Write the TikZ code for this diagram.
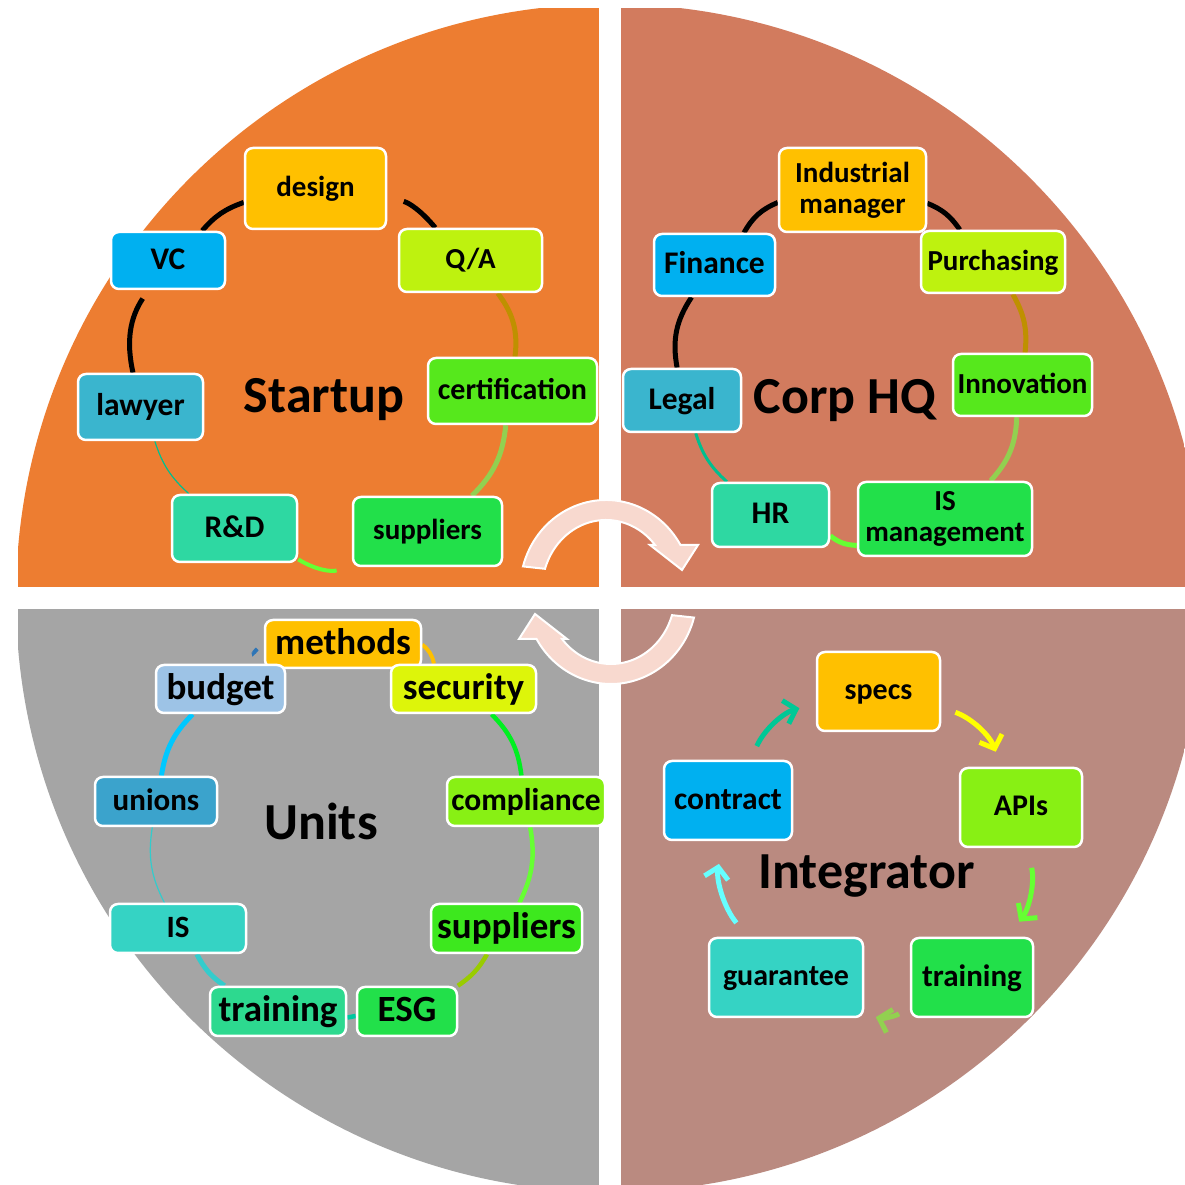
\documentclass[tikz,border=0pt]{standalone}
\usepackage{fontspec}
\setmainfont{Carlito}
\usetikzlibrary{arrows.meta}
\pgfdeclarelayer{back}
\pgfdeclarelayer{links}
\pgfsetlayers{back,links,main}
\tikzstyle{cell} = [rectangle, rounded corners=8pt, draw=white, line width=2.5pt, inner sep=0pt, text=black, align=center]
\tikzstyle{cellA} = [cell, font=\fontsize{29}{31}\selectfont\bfseries, text height=22.6pt, text depth=6.4pt]
\tikzstyle{cellI} = [cell, font=\fontsize{30}{32}\selectfont\bfseries, text height=23.4pt, text depth=6.6pt]
\tikzstyle{cellB} = [cell, font=\fontsize{31}{33}\selectfont\bfseries, text height=24.2pt, text depth=6.8pt]
\tikzstyle{cellL} = [cell, font=\fontsize{31.5}{33}\selectfont\bfseries, text height=24.6pt, text depth=6.9pt]
\tikzstyle{cellC} = [cell, font=\fontsize{37}{40}\selectfont\bfseries, text height=28.9pt, text depth=8.1pt]
\tikzstyle{cellD} = [cell, font=\fontsize{29}{31}\selectfont\bfseries]
\tikzstyle{title} = [font=\fontsize{52}{56}\selectfont\bfseries, anchor=base, inner sep=0pt]
\tikzstyle{link} = [line width=5pt]
\tikzstyle{hair} = [line width=1.2pt]
\tikzstyle{arrow} = [line width=5pt, -{Straight Barb[length=11pt, width=24pt]}]
\tikzstyle{swirlfill} = [fill=swirl, draw=white, line width=2pt]
\definecolor{qorange}{HTML}{ED7D31}
\definecolor{qcoral}{HTML}{D27B5E}
\definecolor{qgrey}{HTML}{A5A5A5}
\definecolor{qrose}{HTML}{BA8A80}
\definecolor{swirl}{HTML}{F8D9CF}
\definecolor{gold}{HTML}{FFC000}
\definecolor{sky}{HTML}{00B0F0}
\definecolor{lime}{HTML}{BEF20F}
\definecolor{leaf}{HTML}{56E81C}
\definecolor{grass}{HTML}{22E04A}
\definecolor{mint}{HTML}{2ED8A2}
\definecolor{lagoon}{HTML}{3AB5CE}
\definecolor{pale}{HTML}{9DC3E6}
\definecolor{steel}{HTML}{3BA3CC}
\definecolor{citron}{HTML}{DDF50A}
\definecolor{chart}{HTML}{88F014}
\definecolor{fern}{HTML}{3DE81E}
\definecolor{aqua}{HTML}{35D3C4}
\definecolor{jade}{HTML}{2DD98F}
\definecolor{ochre}{HTML}{BF9000}
\definecolor{moss}{HTML}{92D050}
\definecolor{neon}{HTML}{66FF33}
\definecolor{sea}{HTML}{00BF8F}
\definecolor{vivid}{HTML}{00F020}
\definecolor{olive}{HTML}{99CC00}
\definecolor{teal}{HTML}{00C8A0}
\definecolor{turq}{HTML}{33CCCC}
\definecolor{cyanb}{HTML}{00C8FF}
\definecolor{navyb}{HTML}{2E75B6}
\definecolor{green}{HTML}{00C896}
\definecolor{yel}{HTML}{FFFF00}
\definecolor{ice}{HTML}{66FFFF}
\newcommand{\swirlarrow}[1]{\path[swirlfill, #1, shift={(606,595)}] (164.8:86 and 90) arc[start angle=164.8, end angle=30, x radius=86, y radius=90] -- (92,45) -- (76,20) -- (44,45) -- (40:64 and 70) arc[start angle=40, end angle=162.4, x radius=64, y radius=70] -- cycle;}

\begin{document}
\begin{tikzpicture}[x=1pt, y=1pt]
\useasboundingbox (0,0) rectangle (1185,1185);
\begin{pgfonlayer}{back}
\fill[white] (0,0) rectangle (1185,1185);
\begin{scope}
\clip (610,587) circle (594);
\fill[qorange] (18,598) rectangle (599,1177);
\fill[qcoral] (621,598) rectangle (1185,1177);
\fill[qgrey] (18,0) rectangle (599,576);
\fill[qrose] (621,0) rectangle (1185,576);
\end{scope}
\end{pgfonlayer}

\swirlarrow{}
\swirlarrow{rotate around={180:(608.5,593)}}

% Startup
\node (design) [cellA, fill=gold, minimum width=141pt, minimum height=81pt] at (315.5,996.5) {design};
\node (VC) [cellL, fill=sky, minimum width=114pt, minimum height=57pt] at (168,924.5) {VC};
\node (QA) [cellA, fill=lime, minimum width=143pt, minimum height=63pt] at (470.5,924.5) {Q/A};
\node (lawyer) [cellL, fill=lagoon, minimum width=125pt, minimum height=66pt] at (140.5,778) {lawyer};
\node (cert) [cellI, fill=leaf, minimum width=169pt, minimum height=66pt] at (512.5,794) {certification};
\node (RD) [cellL, fill=mint, minimum width=125pt, minimum height=67pt] at (234.5,656.5) {R\&D};
\node (supS) [cellA, fill=grass, minimum width=149pt, minimum height=69pt] at (427.5,653.5) {suppliers};
\node (startup) [title] at (324,772) {Startup};

% Corp HQ
\node (IM) [cellD, fill=gold, minimum width=147pt, minimum height=84pt] at (852.5,995) {Industrial\\manager};
\node (fin) [cellL, fill=sky, minimum width=121pt, minimum height=62pt] at (714.5,920) {Finance};
\node (pur) [cellA, fill=lime, minimum width=144pt, minimum height=62pt] at (993,923) {Purchasing};
\node (inno) [cellA, fill=leaf, minimum width=139pt, minimum height=62pt] at (1022.5,800) {Innovation};
\node (legal) [cellL, fill=lagoon, minimum width=118pt, minimum height=63pt] at (682,784.5) {Legal};
\node (HR) [cellL, fill=mint, minimum width=117pt, minimum height=64pt] at (770.5,670) {HR};
\node (ISm) [cellD, fill=grass, minimum width=174pt, minimum height=74pt] at (945,666) {IS\\management};
\node (corp) [title] at (845,771) {Corp HQ};

% Units
\node (methods) [cellC, fill=gold, minimum width=156pt, minimum height=48pt] at (343,541) {methods};
\node (security) [cellC, fill=citron, minimum width=145pt, minimum height=48pt] at (463.5,496) {security};
\node (compl) [cellL, fill=chart, minimum width=158pt, minimum height=49pt] at (526,383.5) {compliance};
\node (supU) [cellC, fill=fern, minimum width=151pt, minimum height=49pt] at (506.5,256.5) {suppliers};
\node (ESG) [cellC, fill=grass, minimum width=100pt, minimum height=49pt] at (407,173.5) {ESG};
\node (trainU) [cellC, fill=jade, minimum width=136pt, minimum height=49pt] at (278,173.5) {training};
\node (IS) [cellB, fill=aqua, minimum width=136pt, minimum height=49pt] at (178,256.5) {IS};
\node (unions) [cellB, fill=steel, minimum width=122pt, minimum height=49pt] at (156,383.5) {unions};
\node (budget) [cellC, fill=pale, minimum width=129pt, minimum height=48pt] at (220.5,496) {budget};
\node (units) [title] at (321,345) {Units};

% Integrator
\node (specs) [cellI, fill=gold, minimum width=123pt, minimum height=79pt] at (878.5,493.5) {specs};
\node (APIs) [cellI, fill=chart, minimum width=122pt, minimum height=79pt] at (1021,377.5) {APIs};
\node (contract) [cellL, fill=sky, minimum width=128pt, minimum height=79pt] at (728,384.5) {contract};
\node (trainI) [cellB, fill=grass, minimum width=122pt, minimum height=79pt] at (972,207.5) {training};
\node (guar) [cellI, fill=aqua, minimum width=154pt, minimum height=79pt] at (786,207.5) {guarantee};
\node (integ) [title] at (866.5,296) {Integrator};

\begin{pgfonlayer}{links}
\draw[link, black, shorten <=17pt] (design) to[bend left=18] (QA);
\draw[link, ochre] (QA) to[bend left=22] (cert);
\draw[link, moss] (cert) to[bend left=20] (supS);
\draw[link, neon, line width=4pt, shorten <=16pt] (supS) to[bend left=25] (RD);
\draw[hair, sea] (RD) to[bend left=15] (lawyer);
\draw[link, black, shorten >=10pt] (lawyer) to[bend left=23] (VC);
\draw[link, black] (VC) to[bend left=15] (design);

\draw[link, black] (IM) to[bend left=17] (pur);
\draw[link, ochre] (pur) to[bend left=18] (inno);
\draw[link, moss] (inno) to[bend left=20] (ISm);
\draw[link, neon] (ISm) to[bend left=18] (HR);
\draw[link, sea, line width=3pt] (HR) to[bend left=15] (legal);
\draw[link, black] (legal) to[bend left=22] (fin);
\draw[link, black] (fin) to[bend left=19] (IM);

\draw[link, gold, line width=4pt] (methods) to[bend left=20] (security);
\draw[link, vivid, line width=4.5pt] (security) to[bend left=19] (compl);
\draw[link, neon, line width=4.5pt] (compl) to[bend left=18] (supU);
\draw[link, olive, line width=4.5pt] (supU) to[bend left=13] (ESG);
\draw[link, teal, line width=4.5pt] (ESG) to[bend left=5] (trainU);
\draw[link, turq] (trainU) to[bend left=14] (IS);
\draw[hair, turq] (IS) to[bend left=18] (unions);
\draw[link, cyanb] (unions) to[bend left=18] (budget);
\draw[link, navyb, line width=4pt, shorten <=12pt, shorten >=8pt] (budget) to[bend left=20] (methods);

\draw[arrow, green, shorten <=15pt, shorten >=17pt] (contract) to[bend left=25] (specs);
\draw[arrow, yel, shorten <=15pt, shorten >=16pt] (specs) to[bend left=25] (APIs);
\draw[arrow, neon, shorten <=20pt, shorten >=19pt] (APIs) to[bend left=25] (trainI);
\draw[arrow, moss, shorten <=13pt, shorten >=12pt] (trainI) to[bend left=25] (guar);
\draw[arrow, ice, shorten <=18pt, shorten >=23pt] (guar) to[bend left=25] (contract);
\end{pgfonlayer}
\end{tikzpicture}
\end{document}
